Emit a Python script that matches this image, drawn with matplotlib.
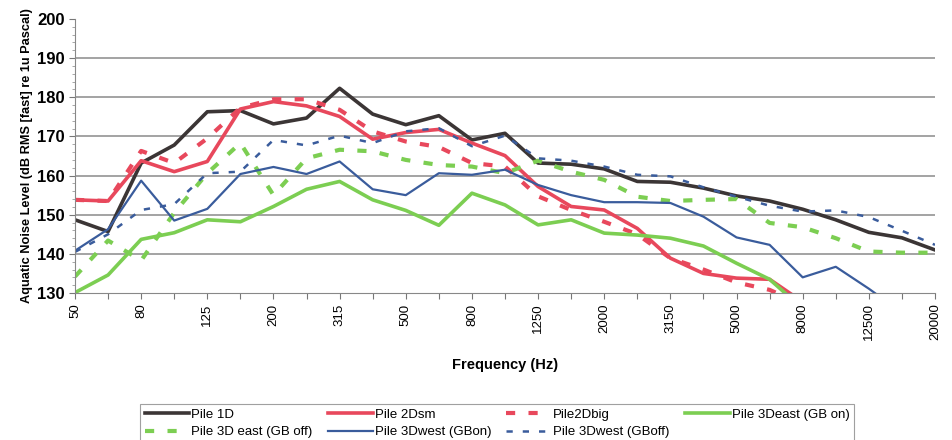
import numpy as np
import matplotlib.pyplot as plt

plt.rcParams['font.family'] = ['Liberation Sans', 'DejaVu Sans']

# third-octave bands (Hz)
bands = [50, 63, 80, 100, 125, 160, 200, 250, 315, 400, 500, 630, 800, 1000,
         1250, 1600, 2000, 2500, 3150, 4000, 5000, 6300, 8000, 10000, 12500,
         16000, 20000]
nan = np.nan

pile_1d = [148.7, 145.7, 163.2, 167.8, 176.3, 176.6, 173.2, 174.7, 182.3, 175.7,
           173.0, 175.3, 169.1, 170.8, 163.2, 162.9, 161.7, 158.5, 158.3, 156.8,
           154.8, 153.5, 151.4, 148.7, 145.5, 144.1, 141.0]
pile_2dsm = [153.8, 153.5, 163.8, 161.0, 163.6, 177.0, 178.9, 177.8, 175.1, 169.3,
             171.0, 171.8, 168.3, 165.1, 157.2, 152.1, 151.2, 146.5, 138.9, 135.0,
             133.8, 133.5, 127.7, nan, nan, nan, nan]
pile_2dbig = [153.8, 153.5, 166.3, 163.2, 169.5, 177.3, 179.5, 179.5, 176.8, 171.3,
              168.7, 167.3, 163.2, 162.3, 154.7, 151.2, 148.2, 145.0, 138.9, 136.0,
              132.7, 130.8, 127.0, nan, nan, nan, nan]
pile_3deast_on = [130.1, 134.6, 143.7, 145.4, 148.7, 148.2, 152.1, 156.5, 158.5, 153.8,
                  151.1, 147.3, 155.5, 152.5, 147.4, 148.7, 145.3, 144.8, 144.0, 142.0,
                  137.6, 133.5, 126.0, nan, nan, nan, nan]
pile_3deast_off = [134.2, 143.4, 138.3, 150.5, 160.6, 168.3, 155.0, 164.4, 166.6, 166.2,
                   164.0, 162.7, 162.3, 160.6, 163.8, 161.0, 158.9, 154.6, 153.5, 153.8,
                   154.0, 147.9, 146.8, 144.0, 140.6, 140.3, 140.3]
pile_3dwest_on = [140.8, 146.3, 158.7, 148.5, 151.5, 160.4, 162.2, 160.4, 163.6, 156.5,
                  155.0, 160.6, 160.2, 161.5, 157.6, 155.0, 153.2, 153.2, 153.0, 149.5,
                  144.2, 142.3, 134.0, 136.7, 131.1, 125.0, nan]
pile_3dwest_off = [140.5, 145.0, 151.2, 152.7, 160.6, 161.0, 169.1, 167.7, 170.2, 168.3,
                   171.3, 172.1, 167.5, 170.2, 164.4, 163.8, 162.3, 160.2, 159.8, 157.0,
                   154.6, 152.3, 150.8, 151.1, 149.4, 145.9, 142.3]

fig = plt.figure(figsize=(9.53, 4.40), dpi=100)
ax = fig.add_axes([75/953, 1 - 293/440, 860/953, 274/440])

x = np.arange(len(bands))
black = '#3b3535'
red = '#e8485c'
green = '#7cce52'
blue = '#3a5c9c'

ax.plot(x, pile_1d, color=black, lw=2.6, label='Pile 1D')
ax.plot(x, pile_2dsm, color=red, lw=2.6, label='Pile 2Dsm')
ax.plot(x, pile_2dbig, color=red, lw=3, ls=(0, (2.2, 3.2)), label='Pile2Dbig')
ax.plot(x, pile_3deast_on, color=green, lw=2.6, label='Pile 3Deast (GB on)')
ax.plot(x, pile_3deast_off, color=green, lw=3, ls=(0, (2.2, 3.2)), label='Pile 3D east (GB off)')
ax.plot(x, pile_3dwest_on, color=blue, lw=1.6, label='Pile 3Dwest (GBon)')
ax.plot(x, pile_3dwest_off, color=blue, lw=1.8, ls=(0, (2.5, 4)), label='Pile 3Dwest (GBoff)')

ax.set_xlim(0, len(bands) - 1)
ax.set_ylim(130, 200)
ax.set_yticks(range(130, 201, 10))
ax.set_yticklabels([str(v) for v in range(130, 201, 10)], fontsize=12, fontweight='bold')
ax.set_xticks(x)
ax.set_xticklabels([str(b) if i % 2 == 0 else '' for i, b in enumerate(bands)],
                   rotation=90, fontsize=9.5)
ax.set_yticks(np.arange(130, 201, 2), minor=True)
ax.tick_params(axis='y', which='minor', length=2, color='#999999')
ax.tick_params(axis='both', which='major', length=4, color='#777777')

for v in range(140, 200, 10):
    ax.axhline(v, color='#8a8a8a', lw=1.1, zorder=0)

for s in ['top', 'right']:
    ax.spines[s].set_visible(False)
for s in ['left', 'bottom']:
    ax.spines[s].set_color('#888888')

ax.set_ylabel('Aquatic Noise Level (dB RMS [fast] re 1u Pascal)', fontsize=9.2,
              fontweight='bold', labelpad=3)
ax.set_xlabel('Frequency (Hz)', fontsize=10.5, fontweight='bold', labelpad=13)

# legend filled row by row, as in the original
h, l = ax.get_legend_handles_labels()
order = [0, 4, 1, 5, 2, 6, 3]
leg = fig.legend([h[i] for i in order], [l[i] for i in order],
                 loc='upper left', bbox_to_anchor=(140/953, 1 - 404/440), ncol=4,
                 borderaxespad=0, fontsize=9.5, frameon=True, fancybox=False,
                 edgecolor='#888888', handlelength=3.4, handletextpad=0.15,
                 columnspacing=1.15, borderpad=0.35, labelspacing=0.4)
leg.get_frame().set_linewidth(0.8)

fig.savefig('out.png', dpi=100)
